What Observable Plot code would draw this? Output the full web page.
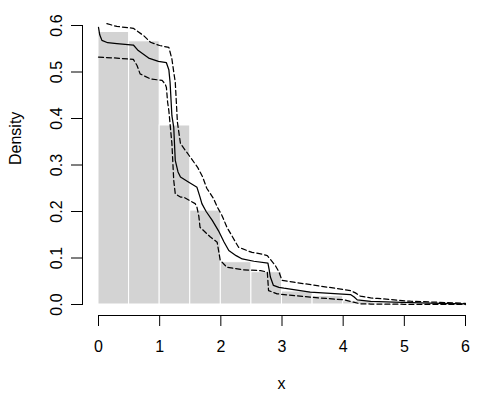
<!DOCTYPE html>
<html>
<head>
<meta charset="utf-8">
<script src="https://cdn.jsdelivr.net/npm/d3@7"></script>
<script src="https://cdn.jsdelivr.net/npm/@observablehq/plot@0.6"></script>
<style>
  body { margin: 0; background: white; }
</style>
</head>
<body>
<div id="chart"></div>
<script>
// Histogram bins (density scale)
const binStart = [0, 0.5, 1, 1.5, 2, 2.5, 3, 3.5, 4, 4.5, 5, 5.5];
const binEnd   = [0.5, 1, 1.5, 2, 2.5, 3, 3.5, 4, 4.5, 5, 5.5, 6];
const binDensity = [0.586, 0.566, 0.385, 0.202, 0.091, 0.0695, 0.028, 0.018, 0.007, 0.003, 0.002, 0.002];

// Density estimate (solid)
const estX = [0, 0.02, 0.056, 0.15, 0.3, 0.57, 0.65, 0.82, 0.98, 1.11, 1.15, 1.17, 1.20, 1.23, 1.255, 1.3, 1.34, 1.45, 1.61, 1.66, 1.69, 1.76, 1.86, 1.96, 2.05, 2.13, 2.25, 2.35, 2.54, 2.77, 2.79, 2.81, 2.86, 2.95, 3.03, 3.46, 4.12, 4.18, 4.23, 4.45, 4.83, 5.4, 6.0];
const estY = [0.596, 0.58, 0.568, 0.563, 0.561, 0.558, 0.546, 0.530, 0.523, 0.520, 0.505, 0.478, 0.406, 0.381, 0.31, 0.285, 0.274, 0.265, 0.252, 0.231, 0.217, 0.200, 0.181, 0.159, 0.135, 0.116, 0.105, 0.098, 0.093, 0.089, 0.075, 0.059, 0.041, 0.037, 0.035, 0.0265, 0.0215, 0.016, 0.010, 0.0065, 0.005, 0.003, 0.0015];

// Upper confidence band (dashed)
const upX = [0.137, 0.3, 0.57, 0.74, 0.85, 1.0, 1.15, 1.20, 1.23, 1.255, 1.28, 1.29, 1.34, 1.50, 1.62, 1.70, 1.77, 1.88, 1.94, 2.02, 2.10, 2.29, 2.51, 2.65, 2.76, 2.89, 2.95, 3.0, 3.19, 4.12, 4.2, 4.28, 4.45, 4.56, 5.1, 6.0];
const upY = [0.604, 0.598, 0.594, 0.578, 0.564, 0.557, 0.553, 0.528, 0.500, 0.478, 0.417, 0.392, 0.346, 0.317, 0.295, 0.275, 0.25, 0.228, 0.21, 0.191, 0.166, 0.123, 0.112, 0.109, 0.105, 0.084, 0.07, 0.052, 0.048, 0.030, 0.025, 0.018, 0.014, 0.013, 0.007, 0.0025];

// Lower confidence band (dashed)
const loX = [0, 0.3, 0.57, 0.63, 0.68, 0.85, 1.04, 1.09, 1.11, 1.13, 1.15, 1.20, 1.23, 1.255, 1.34, 1.39, 1.58, 1.61, 1.64, 1.66, 1.83, 1.94, 1.99, 2.10, 2.37, 2.65, 2.76, 2.78, 2.92, 3.46, 4.01, 4.17, 4.28, 4.45, 5.0, 6.0];
const loY = [0.532, 0.530, 0.527, 0.514, 0.496, 0.485, 0.482, 0.474, 0.467, 0.435, 0.417, 0.346, 0.267, 0.238, 0.231, 0.231, 0.217, 0.209, 0.19, 0.166, 0.145, 0.134, 0.095, 0.080, 0.0745, 0.073, 0.0695, 0.030, 0.023, 0.0157, 0.010, 0.005, 0.0015, 0.001, 0.0005, 0.0];

const xTicks = [0, 1, 2, 3, 4, 5, 6];
const yTicks = [0, 0.1, 0.2, 0.3, 0.4, 0.5, 0.6];
const xTitle = "x";
const yTitle = "Density";

const bins = binStart.map((s, i) => ({x1: s, x2: binEnd[i], y: binDensity[i]}));
const est = estX.map((x, i) => ({x, y: estY[i]}));
const up = upX.map((x, i) => ({x, y: upY[i]}));
const lo = loX.map((x, i) => ({x, y: loY[i]}));

const chart = Plot.plot({
  width: 500,
  height: 400,
  marginLeft: 82,
  marginRight: 20,
  marginTop: 14,
  marginBottom: 85,
  style: {fontFamily: "'Liberation Sans', Arial, Helvetica, sans-serif", fontSize: "16px", background: "white", color: "black"},
  x: {domain: [0, 6], insetLeft: 16, insetRight: 15},
  y: {domain: [0, 0.6], insetTop: 11, insetBottom: 11},
  marks: [
    Plot.rectY(bins, {x1: "x1", x2: "x2", y: "y", fill: "#d3d3d3", stroke: "white", strokeWidth: 1}),
    Plot.line(est, {x: "x", y: "y", stroke: "black", strokeWidth: 1.25}),
    Plot.line(up, {x: "x", y: "y", stroke: "black", strokeWidth: 1.25, strokeDasharray: "5,3"}),
    Plot.line(lo, {x: "x", y: "y", stroke: "black", strokeWidth: 1.25, strokeDasharray: "5,3"}),
    Plot.frame({anchor: "bottom", insetLeft: 16, insetRight: 15}),
    Plot.frame({anchor: "left", insetTop: 11, insetBottom: 11}),
    Plot.axisX(xTicks, {anchor: "bottom", tickSize: 11, tickPadding: 14, label: null, tickFormat: d => String(d)}),
    Plot.axisY(yTicks, {anchor: "left", tickSize: 11, tickRotate: -90, tickPadding: 10, label: null, tickFormat: d => d.toFixed(1)}),
    Plot.text([xTitle], {frameAnchor: "bottom", dy: 73, text: d => d}),
    Plot.text([yTitle], {frameAnchor: "left", dx: -67, rotate: -90, text: d => d})
  ]
});
document.getElementById("chart").appendChild(chart);
</script>
</body>
</html>
